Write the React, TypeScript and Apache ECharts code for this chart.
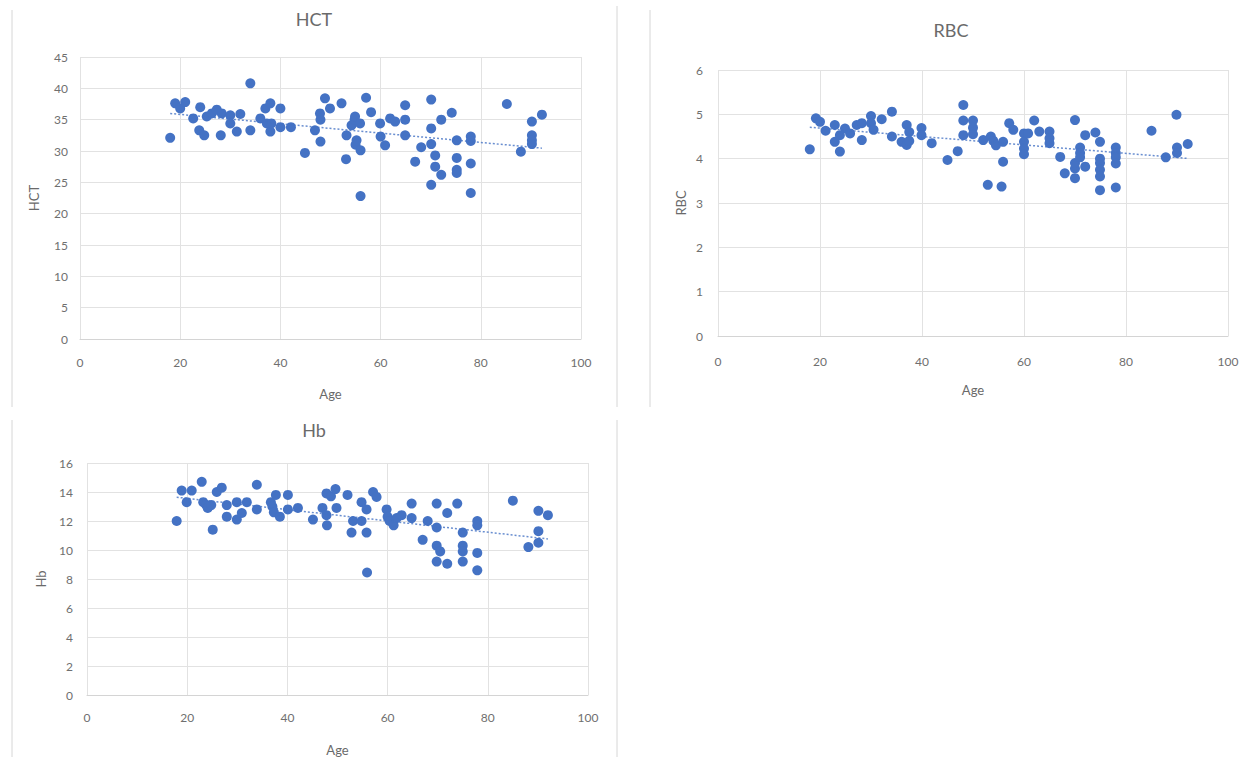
import React, { useEffect, useRef } from "react";
import * as echarts from "echarts";

// ---------- data ----------
const hctAge = [18, 19, 20, 21, 22.6, 24, 23.8, 24.8, 25.3, 26.3, 27.3, 28.1, 28.3, 30, 30, 31.3, 32, 34, 34, 36, 37, 38, 37.3, 38, 38.2, 40, 40, 42.1, 44.9, 46.9, 47.9, 48, 48, 48.9, 49.9, 52.2, 53.2, 53.1, 54.2, 54.8, 55, 54.9, 55.9, 57.1, 58.1, 55.2, 56, 56, 59.9, 60, 60.9, 61.9, 62.9, 64.9, 64.9, 64.9, 66.9, 68.1, 70.1, 70.1, 70.1, 70.1, 70.9, 70.9, 72.1, 72.1, 74.2, 75.2, 75.2, 75.2, 75.2, 78, 78, 78, 78, 85.2, 88, 90.2, 90.2, 90.2, 90.2, 92.2];
const hctVal = [32.1, 37.6, 36.8, 37.8, 35.2, 37, 33.3, 32.5, 35.5, 36, 36.6, 32.5, 36, 35.7, 34.4, 33.1, 35.9, 40.8, 33.3, 35.2, 36.8, 37.6, 34.4, 33.1, 34.4, 36.8, 33.8, 33.8, 29.7, 33.3, 36, 35, 31.5, 38.4, 36.8, 37.6, 32.5, 28.7, 34.1, 35, 31, 35.5, 34.4, 38.5, 36.2, 31.7, 30.1, 22.8, 34.4, 32.3, 30.9, 35.2, 34.7, 37.3, 35, 32.5, 28.3, 30.6, 38.2, 33.6, 31.1, 24.6, 29.3, 27.5, 26.2, 35, 36.1, 31.7, 28.9, 27, 26.5, 32.3, 31.6, 28, 23.3, 37.5, 29.9, 34.7, 32.5, 31.7, 31.1, 35.8];

const rbcAge = [18, 19.2, 20, 21.1, 22.9, 22.9, 23.9, 24.9, 23.9, 25.9, 27.2, 28.2, 28.2, 30, 30, 30.5, 32.1, 34.1, 34.1, 36, 37, 37, 37.5, 37.5, 39.9, 39.9, 41.9, 45, 47, 48.1, 48.1, 48.1, 50, 50, 50, 52, 52.9, 53.5, 54, 54.5, 55.6, 55.9, 55.9, 57.1, 57.9, 60, 60, 60, 60, 60.8, 62, 63, 65, 65, 65, 67.1, 68, 70, 70, 70, 70, 71, 71, 71, 72, 72, 74, 74.9, 74.9, 74.9, 74.9, 74.9, 74.9, 78, 78, 78, 78, 78, 85, 87.8, 89.9, 90, 90, 92.1];
const rbcVal = [4.21, 4.91, 4.83, 4.63, 4.76, 4.38, 4.16, 4.68, 4.53, 4.57, 4.76, 4.8, 4.42, 4.96, 4.8, 4.65, 4.89, 5.06, 4.5, 4.38, 4.76, 4.31, 4.6, 4.4, 4.69, 4.53, 4.35, 3.97, 4.17, 5.21, 4.86, 4.53, 4.86, 4.7, 4.55, 4.42, 3.41, 4.5, 4.4, 4.3, 3.37, 4.38, 3.93, 4.8, 4.65, 4.57, 4.38, 4.23, 4.1, 4.57, 4.86, 4.61, 4.61, 4.46, 4.35, 4.04, 3.67, 4.87, 3.78, 3.56, 3.9, 4.25, 4.13, 4.03, 4.53, 3.82, 4.59, 4.38, 4.0, 3.9, 3.75, 3.6, 3.29, 4.25, 4.13, 4.03, 3.89, 3.35, 4.63, 4.03, 4.99, 4.25, 4.13, 4.33];

const hbAge = [17.9, 18.9, 19.9, 20.9, 22.9, 23.2, 23.8, 24.1, 24.8, 25.1, 25.9, 26.9, 27.9, 27.9, 29.9, 29.9, 30.9, 31.9, 33.9, 33.9, 36.7, 37, 37.7, 37.3, 38.5, 40.1, 40.1, 42.1, 45.1, 47, 47.8, 47.8, 47.9, 48.7, 49.6, 49.8, 52, 52.8, 53.1, 54.8, 55.8, 54.8, 55.8, 57.1, 57.8, 55.9, 59.8, 60, 60.4, 61.2, 61.8, 62.8, 64.8, 64.8, 67, 68, 69.8, 69.8, 69.8, 69.8, 70.5, 71.9, 71.9, 73.9, 75, 75, 75, 75, 77.9, 77.9, 77.9, 77.9, 85, 88.1, 90.1, 90.1, 90.1, 92];
const hbVal = [12.0, 14.1, 13.3, 14.1, 14.7, 13.3, 13.1, 12.9, 13.1, 11.4, 14.0, 14.3, 13.1, 12.3, 13.3, 12.1, 12.55, 13.3, 14.5, 12.8, 13.3, 13, 13.8, 12.6, 12.3, 13.8, 12.8, 12.9, 12.1, 12.9, 13.9, 12.4, 11.7, 13.7, 14.2, 12.9, 13.8, 11.2, 12.0, 13.3, 12.8, 12.0, 11.2, 14.0, 13.66, 8.45, 12.8, 12.3, 12.0, 11.7, 12.2, 12.4, 13.2, 12.2, 10.7, 12.0, 13.2, 11.55, 10.3, 9.2, 9.9, 12.55, 9.05, 13.2, 11.2, 10.3, 9.9, 9.2, 12.0, 11.7, 9.8, 8.6, 13.4, 10.2, 12.7, 11.3, 10.5, 12.4];

const panelTitles = ["HCT", "RBC", "Hb"];
const xAxisName = "Age";

// ---------- helpers ----------
const zip = (xs: number[], ys: number[]) => xs.map((x, i) => [x, ys[i]]);
function trend(xs: number[], ys: number[]) {
  const n = xs.length;
  const mx = xs.reduce((a, b) => a + b, 0) / n;
  const my = ys.reduce((a, b) => a + b, 0) / n;
  let sxy = 0, sxx = 0;
  for (let i = 0; i < n; i++) { sxy += (xs[i] - mx) * (ys[i] - my); sxx += (xs[i] - mx) ** 2; }
  const b = sxy / sxx;
  const a = my - b * mx;
  const x0 = Math.min(...xs), x1 = Math.max(...xs);
  return [[x0, a + b * x0], [x1, a + b * x1]];
}

const FONT = "Lato, 'Open Sans', sans-serif";
const BLUE = "#4472C4";
const GRID = "#e2e2e2";
const LABEL = "#6f6f6f";

function xAx(gridIndex: number, margin: number, nameGap: number) {
  return {
    type: "value", gridIndex, min: 0, max: 100, interval: 20,
    name: xAxisName, nameLocation: "middle", nameGap,
    nameTextStyle: { color: "#6a6a6a", fontSize: 13, fontFamily: FONT },
    axisLine: { show: true, lineStyle: { color: "#d4d4d4" } },
    axisTick: { show: false },
    axisLabel: { color: LABEL, fontSize: 12, fontFamily: FONT, margin },
    splitLine: { show: true, lineStyle: { color: GRID } },
  };
}
function yAx(gridIndex: number, name: string, max: number, interval: number, margin: number, nameGap: number) {
  return {
    type: "value", gridIndex, min: 0, max, interval,
    name, nameLocation: "middle", nameGap, nameRotate: 90,
    nameTextStyle: { color: "#6a6a6a", fontSize: 13, fontFamily: FONT },
    axisLine: { show: false },
    axisTick: { show: false },
    axisLabel: { color: LABEL, fontSize: 12, fontFamily: FONT, margin },
    splitLine: { show: true, lineStyle: { color: GRID } },
  };
}
function seriesFor(i: number, xs: number[], ys: number[]) {
  return [
    {
      type: "scatter", xAxisIndex: i, yAxisIndex: i, data: zip(xs, ys),
      symbolSize: 10, itemStyle: { color: BLUE, opacity: 1 }, z: 2,
    },
    {
      type: "line", xAxisIndex: i, yAxisIndex: i, data: trend(xs, ys),
      symbol: "none", lineStyle: { color: BLUE, width: 1.5, type: [2, 2], opacity: 0.8 }, z: 3,
    },
  ];
}

function titleText(text: string, x: number, y: number) {
  return {
    type: "text", x, y,
    style: { text, fill: "#6a6a6a", fontSize: 18, fontFamily: FONT, textAlign: "center", align: "center", textVerticalAlign: "middle", verticalAlign: "middle" },
  };
}
function vline(x: number, y1: number, y2: number) {
  return { type: "line", shape: { x1: x, y1, x2: x, y2 }, style: { stroke: "#d6d6d6", lineWidth: 1 } };
}

export default function App() {
  const ref = useRef<HTMLDivElement>(null);
  useEffect(() => {
    if (!ref.current) return;
    const chart = echarts.init(ref.current, undefined, { renderer: "svg" });
    chart.setOption({
      animation: false,
      backgroundColor: "#ffffff",
      grid: [
        { left: 80, top: 57, width: 501, height: 282 },
        { left: 718, top: 70, width: 510, height: 266 },
        { left: 87, top: 463, width: 501, height: 241 },
      ],
      xAxis: [xAx(0, 17, 48), xAx(1, 19, 47), xAx(2, 16, 48)],
      yAxis: [
        yAx(0, "HCT", 45, 5, 12, 40),
        yAx(1, "RBC", 6, 1, 15, 31),
        yAx(2, "Hb", 16, 2, 14, 40),
      ],
      series: [
        ...seriesFor(0, hctAge, hctVal),
        ...seriesFor(1, rbcAge, rbcVal),
        ...seriesFor(2, hbAge, hbVal),
      ],
      graphic: [
        titleText(panelTitles[0], 314, 19),
        titleText(panelTitles[1], 951, 30),
        titleText(panelTitles[2], 314, 430),
        vline(12, 10, 407),
        vline(617, 6, 407),
        vline(650, 10, 407),
        vline(12, 420, 757),
        vline(617, 420, 757),
      ],
    });
    return () => chart.dispose();
  }, []);
  return <div ref={ref} style={{ position: "fixed", left: 0, top: 0, width: 1252, height: 757 }} />;
}
